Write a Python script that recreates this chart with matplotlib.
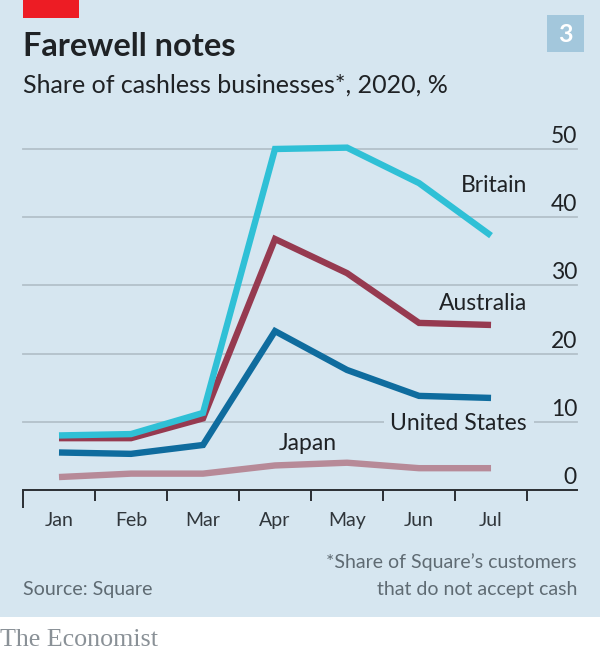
import matplotlib
matplotlib.use("Agg")
import matplotlib.pyplot as plt
from matplotlib.patches import Rectangle
from matplotlib.transforms import ScaledTranslation

W, H = 600, 653

months = ["Jan", "Feb", "Mar", "Apr", "May", "Jun", "Jul"]
britain = [8.0, 8.2, 11.3, 50.0, 50.2, 45.0, 37.3]
australia = [7.6, 7.6, 10.5, 36.8, 31.8, 24.5, 24.2]
united_states = [5.5, 5.3, 6.6, 23.3, 17.6, 13.8, 13.5]
japan = [1.9, 2.4, 2.4, 3.6, 4.0, 3.2, 3.2]
y_ticks = [0, 10, 20, 30, 40, 50]
x_edges = [-0.5, 0.5, 1.5, 2.5, 3.5, 4.5, 5.5, 6.5]

BG = "#d6e6f0"
INK = "#1f2225"
GREY = "#5f6b73"

plt.rcParams["font.family"] = ["Lato", "DejaVu Sans"]

fig = plt.figure(figsize=(W / 100, H / 100), dpi=100, facecolor="white")


def px(x, y):
    # pixel coords from the top left -> figure fraction
    return x / W, 1 - y / H


fig.patches.append(Rectangle((0, 1 - 617 / H), 1, 617 / H, transform=fig.transFigure,
                             facecolor=BG, edgecolor="none", zorder=-5))
fig.patches.append(Rectangle((23 / W, 1 - 18 / H), 56 / W, 18 / H, transform=fig.transFigure,
                             facecolor="#ed1c24", edgecolor="none"))
fig.patches.append(Rectangle((547 / W, 1 - 52 / H), 37 / W, 37 / H, transform=fig.transFigure,
                             facecolor="#a3c7dc", edgecolor="none"))

ax = fig.add_axes([23 / W, 1 - 490 / H, 554 / W, 341 / H])
ax.patch.set_alpha(0)
ax.set_xlim(-0.5, 7.194)
ax.set_ylim(0, 50)
for side in ["top", "left", "right"]:
    ax.spines[side].set_visible(False)
ax.spines["bottom"].set_linewidth(1.4)
ax.spines["bottom"].set_color("#2b2f33")
ax.spines["bottom"].set_zorder(6)

ax.yaxis.tick_right()
ax.set_yticks(y_ticks)
ax.tick_params(axis="y", length=0, pad=0, labelsize=16.5, labelcolor=INK)
lift = ScaledTranslation(0, 6 / 100, fig.dpi_scale_trans)
for lab in ax.get_yticklabels():
    lab.set_ha("right")
    lab.set_va("baseline")
    lab.set_transform(lab.get_transform() + lift)
ax.grid(axis="y", color="#b3c1ca", linewidth=1.3, zorder=1, clip_on=False)
ax.yaxis.get_gridlines()[0].set_visible(False)

ax.set_xticks(x_edges)
ax.set_xticklabels([])
ax.set_xticks(range(len(months)), labels=months, minor=True)
ax.tick_params(axis="x", which="major", length=8, width=1.4, color="#2b2f33")
ax.tick_params(axis="x", which="minor", length=0, pad=16, labelsize=14, labelcolor="#30363b")
ax.xaxis.get_major_ticks()[0].tick1line.set_markersize(13)

x = range(len(months))
series = [
    (japan, "#b78a98"),
    (united_states, "#0f6c9e"),
    (australia, "#963a50"),
    (britain, "#2fc0d6"),
]
for values, color in series:
    ax.plot(x, values, color=color, linewidth=4.6, solid_capstyle="butt",
            solid_joinstyle="miter", zorder=4, clip_on=False)

label_style = dict(fontsize=16.5, color=INK, ha="right", va="center", zorder=5)
ax.text(*ax.transData.inverted().transform((527, H - 186)), "Britain", **label_style)
ax.text(*ax.transData.inverted().transform((527, H - 304)), "Australia", **label_style)
ax.text(*ax.transData.inverted().transform((527, H - 424)), "United States",
        bbox=dict(facecolor=BG, edgecolor="none", pad=5), **{**label_style, "zorder": 3})
ax.text(*ax.transData.inverted().transform((337, H - 444)), "Japan", **label_style)

fig.text(*px(23, 56), "Farewell notes", fontsize=23.4, fontweight="bold", color=INK, va="baseline")
fig.text(*px(23, 93), "Share of cashless businesses*, 2020, %", fontsize=18, color=INK, va="baseline")
fig.text(*px(565.5, 34), "3", fontsize=18, fontweight="bold", color="white", ha="center", va="center")

fig.text(*px(23, 595), "Source: Square", fontsize=14.1, color=GREY, va="baseline")
fig.text(*px(577, 568), "*Share of Square\u2019s customers", fontsize=14, color=GREY, ha="right", va="baseline")
fig.text(*px(577, 595), "that do not accept cash", fontsize=14, color=GREY, ha="right", va="baseline")
fig.text(*px(0, 646), "The Economist", fontsize=18.7, family="Liberation Serif", color="#8a9197", va="baseline")

fig.savefig("out.png", dpi=100)
plt.close(fig)
